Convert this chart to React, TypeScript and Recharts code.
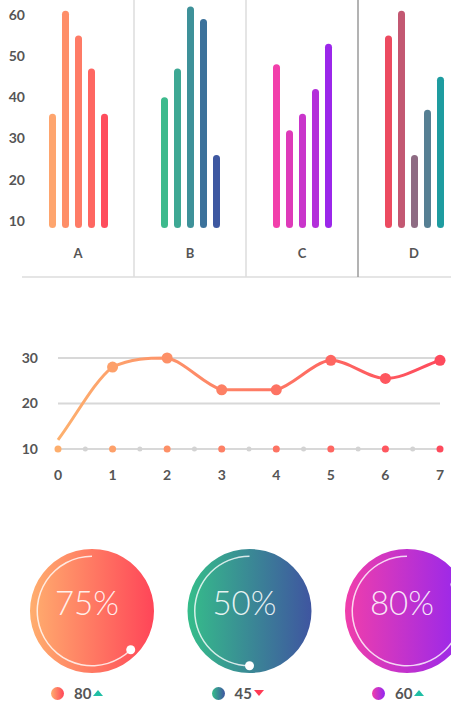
import React from 'react';
import {
  BarChart,
  Bar,
  Cell,
  XAxis,
  YAxis,
  CartesianGrid,
  LineChart,
  Line,
  PieChart,
  Pie,
  Label
} from 'recharts';

// ---- data ----
const categories = ['A', 'B', 'C', 'D'];
const series1 = [36, 40, 48, 55];
const series2 = [61, 47, 32, 61];
const series3 = [55, 62, 36, 26];
const series4 = [47, 59, 42, 37];
const series5 = [36, 26, 53, 45];
const barFloor = 8.3;
const barTicks = [10, 20, 30, 40, 50, 60];

const lineX = [0, 1, 2, 3, 4, 5, 6, 7];
const lineY = [12, 28, 30, 23, 23, 29.5, 25.5, 29.5];
const lineTicks = [10, 20, 30];

const gaugeLabels = ['75%', '50%', '80%'];
const gaugeArcs = [62.5, 50, 83];
const legendValues = [80, 45, 60];
const legendTrend = ['up', 'down', 'up'];

// ---- styles ----
const FONT = 'Lato, "Open Sans", sans-serif';
const AXIS_TEXT = { fontFamily: FONT, fontWeight: 700, fontSize: 14, fill: '#555' };

const barColors = [
  ['#fea56e', '#fe8e68', '#fe7b66', '#fe6762', '#fe4d5d'],
  ['#3dba8d', '#3ea894', '#3e9199', '#3c729b', '#3e58a1'],
  ['#f23fab', '#de3ab9', '#c935cb', '#b32fda', '#9b27ea'],
  ['#ec4a60', '#c35872', '#8e6b83', '#567f93', '#1e9ca0']
];
const lineDotColors = ['#fdae6d', '#fda06a', '#fd9067', '#fd8065', '#fd7363', '#fe6661', '#fe575f', '#fe4a5c'];
const gaugeGradients = [
  ['#ffae6e', '#ff4558'],
  ['#35bd8a', '#3f55a0'],
  ['#f03eab', '#9226f0']
];

const seriesKeys = ['s1', 's2', 's3', 's4', 's5'];
const barData = categories.map((name, i) => ({
  name,
  s1: series1[i],
  s2: series2[i],
  s3: series3[i],
  s4: series4[i],
  s5: series5[i]
}));

const lineData = lineX.map((x, i) => ({ x, y: lineY[i] }));
const halfTicks = lineX.flatMap(x => (x < lineX[lineX.length - 1] ? [x, x + 0.5] : [x]));

// smooth curve: catmull-rom style tangents, control points clamped between neighbours
const smoothCurve = (context: any) => {
  let xs: number[] = [];
  let ys: number[] = [];
  return {
    areaStart() {},
    areaEnd() {},
    lineStart() {
      xs = [];
      ys = [];
    },
    point(x: number, y: number) {
      xs.push(+x);
      ys.push(+y);
    },
    lineEnd() {
      const n = xs.length;
      if (!n) return;
      context.moveTo(xs[0], ys[0]);
      const t = xs.map((_, i) => {
        const a = Math.max(i - 1, 0);
        const b = Math.min(i + 1, n - 1);
        return (ys[b] - ys[a]) / (xs[b] - xs[a] || 1);
      });
      for (let i = 0; i < n - 1; i++) {
        const h = xs[i + 1] - xs[i];
        const lo = Math.min(ys[i], ys[i + 1]);
        const hi = Math.max(ys[i], ys[i + 1]);
        const clamp = (v: number) => Math.min(hi, Math.max(lo, v));
        context.bezierCurveTo(
          xs[i] + h / 3,
          clamp(ys[i] + (t[i] * h) / 3),
          xs[i + 1] - h / 3,
          clamp(ys[i + 1] - (t[i + 1] * h) / 3),
          xs[i + 1],
          ys[i + 1]
        );
      }
    }
  };
};

const CategoryTick = (props: any) => {
  const { x, y, payload } = props;
  return (
    <text x={x} y={y - 24} textAnchor="middle" dominantBaseline="central" {...AXIS_TEXT} fontSize={13}>
      {payload.value}
    </text>
  );
};

const LineTick = (props: any) => {
  const { x, y, payload } = props;
  const v = payload.value;
  const whole = Number.isInteger(v);
  return (
    <g>
      <circle cx={x} cy={y} r={whole ? 3.5 : 2.5} fill={whole ? lineDotColors[v] : '#d3d3d3'} />
      {whole && (
        <text x={x} y={y + 25} textAnchor="middle" dominantBaseline="central" {...AXIS_TEXT}>
          {v}
        </text>
      )}
    </g>
  );
};

const renderLineDot = (props: any) => {
  const { cx, cy, index } = props;
  if (index === 0) return <g key={`d${index}`} />;
  return <circle key={`d${index}`} cx={cx} cy={cy} r={5.5} fill={lineDotColors[index]} />;
};

const RAD = Math.PI / 180;
const renderArcDot = (props: any) => {
  const { cx, cy, endAngle, innerRadius, outerRadius, index } = props;
  if (index !== 0) return <g key={`a${index}`} />;
  const r = (innerRadius + outerRadius) / 2;
  return (
    <circle
      key={`a${index}`}
      cx={cx + r * Math.cos(-endAngle * RAD)}
      cy={cy + r * Math.sin(-endAngle * RAD)}
      r={4.5}
      fill="#fff"
    />
  );
};

const TopBars = () => (
  <BarChart
    width={480}
    height={278}
    data={barData}
    margin={{ top: 0, right: 10, bottom: 0, left: 0 }}
    barSize={7}
    barGap={6}
  >
    <CartesianGrid
      horizontal={false}
      stroke="#dcdcdc"
      strokeWidth={1.5}
      verticalCoordinatesGenerator={({ offset }: any) => [1, 2].map(i => offset.left + (offset.width * i) / 4)}
    />
    <CartesianGrid
      vertical={false}
      stroke="#dcdcdc"
      strokeWidth={1.5}
      horizontalCoordinatesGenerator={({ offset }: any) => [offset.top + offset.height]}
    />
    <CartesianGrid
      horizontal={false}
      stroke="#9a9a9a"
      strokeWidth={1.5}
      verticalCoordinatesGenerator={({ offset }: any) => [offset.left + (offset.width * 3) / 4]}
    />
    <XAxis
      dataKey="name"
      height={1}
      interval={0}
      axisLine={false}
      tickLine={false}
      tickSize={0}
      tickMargin={0}
      tick={<CategoryTick />}
    />
    <YAxis
      width={22}
      domain={[-3.6, 63.6]}
      ticks={barTicks}
      axisLine={false}
      tickLine={false}
      tickSize={0}
      tickMargin={-3}
      tick={AXIS_TEXT}
    />
    {seriesKeys.map((k, si) => (
      <Bar
        key={k}
        dataKey={(d: any) => [barFloor, d[k]]}
        radius={3.5}
        isAnimationActive={false}
      >
        {barData.map((_, ci) => (
          <Cell key={ci} fill={barColors[ci][si]} />
        ))}
      </Bar>
    ))}
  </BarChart>
);

const MidLine = () => (
  <LineChart width={451} height={160} data={lineData} margin={{ top: 28, right: 11, bottom: 1, left: 8 }}>
    <defs>
      <linearGradient id="lineGrad" x1="0" y1="0" x2="1" y2="0">
        <stop offset="0%" stopColor="#fdb06e" />
        <stop offset="100%" stopColor="#fe4a5c" />
      </linearGradient>
    </defs>
    <CartesianGrid vertical={false} stroke="#d8d8d8" strokeWidth={2} />
    <XAxis
      type="number"
      dataKey="x"
      domain={[0, 7]}
      ticks={halfTicks}
      interval={0}
      height={40}
      axisLine={false}
      tickLine={false}
      tickSize={0}
      tickMargin={0}
      tick={<LineTick />}
    />
    <YAxis
      width={50}
      domain={[10, 30]}
      ticks={lineTicks}
      axisLine={false}
      tickLine={false}
      tickSize={0}
      tickMargin={20}
      tick={AXIS_TEXT}
    />
    <Line
      type={smoothCurve as any}
      dataKey="y"
      stroke="url(#lineGrad)"
      strokeWidth={3}
      dot={renderLineDot}
      activeDot={false}
      isAnimationActive={false}
    />
  </LineChart>
);

const gaugeCx = (i: number) => 87 + i * 157.5;
const GAUGE_CY = 76;

const Gauges = () => (
  <PieChart width={451} height={176}>
    <defs>
      {gaugeGradients.map((g, i) => (
        <linearGradient key={i} id={`gg${i}`} x1="0" y1="0" x2="1" y2="0">
          <stop offset="0%" stopColor={g[0]} />
          <stop offset="100%" stopColor={g[1]} />
        </linearGradient>
      ))}
    </defs>
    {gaugeLabels.map((lab, i) => (
      <Pie
        key={`disc${i}`}
        data={[{ v: 1 }]}
        dataKey="v"
        cx={gaugeCx(i)}
        cy={GAUGE_CY}
        innerRadius={0}
        outerRadius={62}
        startAngle={90}
        endAngle={450}
        stroke="none"
        fill={`url(#gg${i})`}
        isAnimationActive={false}
      >
        <Label
          position="center"
          content={() => (
            <text
              x={gaugeCx(i)}
              y={GAUGE_CY - 4}
              textAnchor="middle"
              dominantBaseline="central"
              fontFamily={FONT}
              fontWeight={300}
              fontSize={33}
              fill="rgba(255,255,255,0.88)"
            >
              {lab}
            </text>
          )}
        />
      </Pie>
    ))}
    {gaugeArcs.map((arc, i) => (
      <Pie
        key={`arc${i}`}
        data={[{ v: arc }, { v: 100 - arc }]}
        dataKey="v"
        cx={gaugeCx(i)}
        cy={GAUGE_CY}
        innerRadius={54}
        outerRadius={55.5}
        startAngle={90}
        endAngle={450}
        stroke="none"
        label={renderArcDot}
        labelLine={false}
        isAnimationActive={false}
      >
        <Cell fill="rgba(255,255,255,0.8)" />
        <Cell fill="transparent" />
      </Pie>
    ))}
  </PieChart>
);

const Legend = () => (
  <>
    {legendValues.map((v, i) => {
      const up = legendTrend[i] === 'up';
      return (
        <div
          key={i}
          style={{
            position: 'absolute',
            left: 51 + i * 160.5,
            top: 686,
            height: 14,
            display: 'flex',
            alignItems: 'center',
            fontFamily: FONT
          }}
        >
          <div
            style={{
              width: 13,
              height: 13,
              borderRadius: '50%',
              background: `linear-gradient(90deg, ${gaugeGradients[i][0]}, ${gaugeGradients[i][1]})`
            }}
          />
          <span style={{ marginLeft: 10, fontWeight: 700, fontSize: 15, color: '#555' }}>{v}</span>
          <div
            style={{
              marginLeft: 2,
              width: 0,
              height: 0,
              borderLeft: '5.5px solid transparent',
              borderRight: '5.5px solid transparent',
              borderBottom: up ? '6px solid #1fbfa5' : undefined,
              borderTop: up ? undefined : '6px solid #ff3b55'
            }}
          />
        </div>
      );
    })}
  </>
);

export default function App() {
  return (
    <div
      style={{
        position: 'absolute',
        left: 0,
        top: 0,
        width: 451,
        height: 706,
        overflow: 'hidden',
        background: '#fff'
      }}
    >
      <div style={{ position: 'absolute', left: 0, top: 0 }}>
        <TopBars />
      </div>
      <div style={{ position: 'absolute', left: 0, top: 330 }}>
        <MidLine />
      </div>
      <div style={{ position: 'absolute', left: 0, top: 530 }}>
        <Gauges />
      </div>
      <Legend />
    </div>
  );
}
